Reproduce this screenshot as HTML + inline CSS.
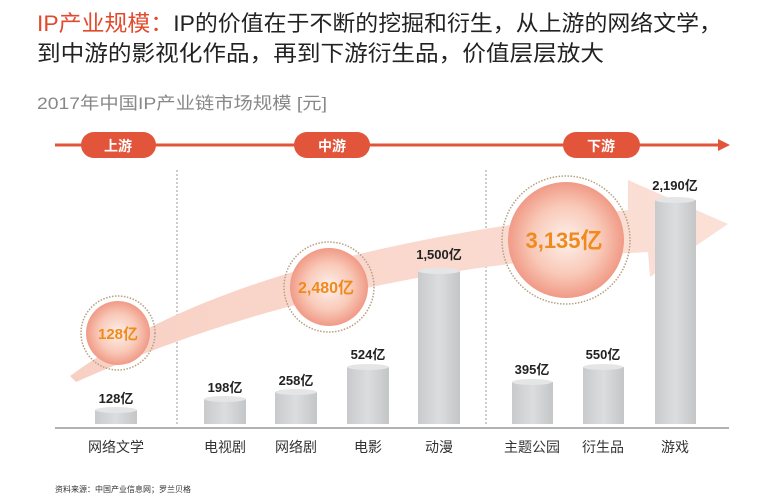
<!DOCTYPE html>
<html><head><meta charset="utf-8"><style>
body{margin:0;background:#fff;width:768px;height:497px;overflow:hidden;font-family:"Liberation Sans","Noto Sans CJK SC",sans-serif;}
</style></head><body>
<svg width="768" height="497" viewBox="0 0 768 497" xmlns="http://www.w3.org/2000/svg" style="font-family:'Liberation Sans','Noto Sans CJK SC',sans-serif">
<defs>
<radialGradient id="cg" cx="50%" cy="50%" r="50%">
<stop offset="0" stop-color="#fdf1ec"/><stop offset="0.6" stop-color="#f9c9b8"/><stop offset="1" stop-color="#f09a86"/>
</radialGradient>
<linearGradient id="bar" x1="0" x2="1">
<stop offset="0" stop-color="#c9cacc"/><stop offset="0.5" stop-color="#dcdddf"/><stop offset="1" stop-color="#c4c5c7"/>
</linearGradient>
<linearGradient id="rib" x1="0" x2="1">
<stop offset="0" stop-color="#f8d0c3"/><stop offset="1" stop-color="#fbe0d7"/>
</linearGradient>
</defs>
<text x="37" y="31" font-size="22" fill="#222" textLength="685" lengthAdjust="spacingAndGlyphs"><tspan fill="#e2492d">IP产业规模：</tspan>IP的价值在于不断的挖掘和衍生，从上游的网络文学，</text>
<text x="37" y="61" font-size="22" fill="#222" textLength="567" lengthAdjust="spacingAndGlyphs">到中游的影视化作品，再到下游衍生品，价值层层放大</text>
<text x="37" y="109" font-size="17" fill="#888" textLength="290" lengthAdjust="spacingAndGlyphs">2017年中国IP产业链市场规模 [元]</text>
<line x1="55" y1="145" x2="722" y2="145" stroke="#e2553a" stroke-width="3"/>
<polygon points="718,139 730,145 718,151" fill="#e2553a"/>
<rect x="81" y="132" width="75" height="26" rx="13" fill="#e2553a"/>
<text x="118" y="151" font-size="14" fill="#fff" text-anchor="middle" font-weight="bold">上游</text>
<rect x="294" y="132" width="76" height="26" rx="13" fill="#e2553a"/>
<text x="332" y="151" font-size="14" fill="#fff" text-anchor="middle" font-weight="bold">中游</text>
<rect x="563" y="132" width="77" height="26" rx="13" fill="#e2553a"/>
<text x="601" y="151" font-size="14" fill="#fff" text-anchor="middle" font-weight="bold">下游</text>
<line x1="177" y1="170" x2="177" y2="425" stroke="#999" stroke-dasharray="2,2"/>
<line x1="486" y1="170" x2="486" y2="425" stroke="#999" stroke-dasharray="2,2"/>
<path d="M70,376 Q 240,250 628,210 L628,180 L728,224 L650,277 L648,252 Q 330,268 76,382 Z" fill="url(#rib)"/>
<line x1="55" y1="428" x2="729" y2="428" stroke="#999" stroke-width="1.5"/>
<g fill="url(#bar)">
<rect x="95" y="410" width="42" height="14"/><ellipse cx="116" cy="410" rx="21" ry="3" fill="#e4e5e6"/>
<rect x="204" y="399" width="42" height="25"/><ellipse cx="225" cy="399" rx="21" ry="3" fill="#e4e5e6"/>
<rect x="275" y="392" width="42" height="32"/><ellipse cx="296" cy="392" rx="21" ry="3" fill="#e4e5e6"/>
<rect x="347" y="367" width="42" height="57"/><ellipse cx="368" cy="367" rx="21" ry="3" fill="#e4e5e6"/>
<rect x="418" y="271" width="42" height="153"/><ellipse cx="439" cy="271" rx="21" ry="3" fill="#e4e5e6"/>
<rect x="512" y="382" width="41" height="42"/><ellipse cx="532" cy="382" rx="20" ry="3" fill="#e4e5e6"/>
<rect x="583" y="367" width="41" height="57"/><ellipse cx="603" cy="367" rx="20" ry="3" fill="#e4e5e6"/>
<rect x="655" y="200" width="41" height="224"/><ellipse cx="675" cy="200" rx="20" ry="3" fill="#e4e5e6"/>
</g>
<g font-size="13" font-weight="bold" fill="#222" text-anchor="middle">
<text x="116" y="403">128亿</text>
<text x="225" y="392">198亿</text>
<text x="296" y="385">258亿</text>
<text x="368" y="359">524亿</text>
<text x="439" y="259">1,500亿</text>
<text x="532" y="374">395亿</text>
<text x="603" y="359">550亿</text>
<text x="675" y="190">2,190亿</text>
</g>
<g font-size="14" fill="#333" text-anchor="middle">
<text x="116" y="452">网络文学</text>
<text x="225" y="452">电视剧</text>
<text x="296" y="452">网络剧</text>
<text x="368" y="452">电影</text>
<text x="439" y="452">动漫</text>
<text x="532" y="452">主题公园</text>
<text x="603" y="452">衍生品</text>
<text x="675" y="452">游戏</text>
</g>
<circle cx="118" cy="333" r="37" fill="none" stroke="#b7a080" stroke-width="1.5" stroke-dasharray="1.5,1.5"/>
<circle cx="118" cy="333" r="32" fill="url(#cg)"/>
<text x="118" y="339" font-size="15" font-weight="bold" fill="#f08a1c" text-anchor="middle">128亿</text>
<circle cx="329" cy="287" r="45" fill="none" stroke="#b7a080" stroke-width="1.5" stroke-dasharray="1.5,1.5"/>
<circle cx="329" cy="287" r="39" fill="url(#cg)"/>
<text x="326" y="293" font-size="16" font-weight="bold" fill="#f08a1c" text-anchor="middle">2,480亿</text>
<circle cx="566" cy="240" r="64" fill="none" stroke="#b7a080" stroke-width="1.5" stroke-dasharray="1.5,1.5"/>
<circle cx="566" cy="240" r="58" fill="url(#cg)"/>
<text x="564" y="248" font-size="22" font-weight="bold" fill="#f08a1c" text-anchor="middle">3,135亿</text>
<text x="55" y="492" font-size="8" fill="#333">资料来源：中国产业信息网；罗兰贝格</text>
</svg>
</body></html>
